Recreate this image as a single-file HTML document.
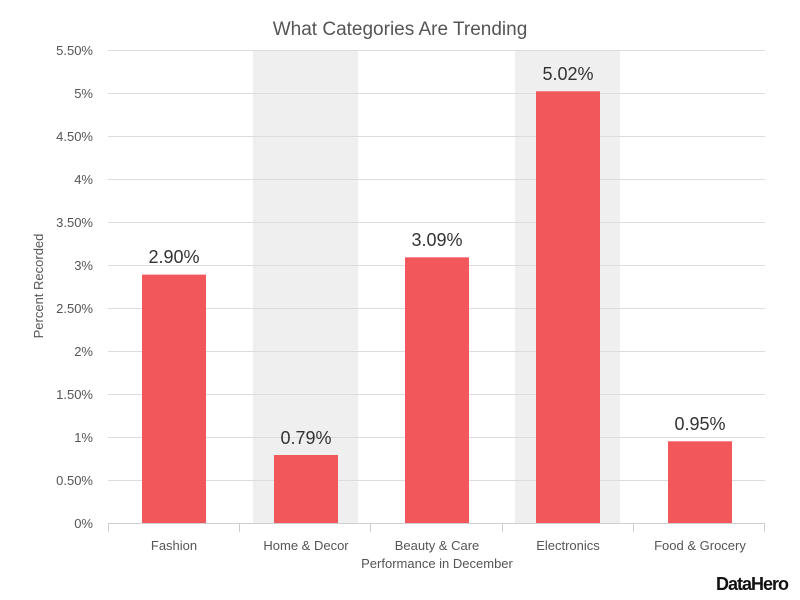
<!DOCTYPE html>
<html><head><style>body{margin:0;background:#fff}svg{display:block;font-family:"Liberation Sans",sans-serif}</style></head><body>
<svg width="800" height="600" xmlns="http://www.w3.org/2000/svg">
<rect width="800" height="600" fill="#fff"/>
<rect x="253" y="50" width="105" height="473" fill="#efefef"/>
<rect x="515" y="50" width="105" height="473" fill="#efefef"/>
<g stroke="#dcdcdc" stroke-width="1">
<line x1="108" x2="765" y1="50.5" y2="50.5"/><line x1="108" x2="765" y1="93.5" y2="93.5"/><line x1="108" x2="765" y1="136.5" y2="136.5"/><line x1="108" x2="765" y1="179.5" y2="179.5"/><line x1="108" x2="765" y1="222.5" y2="222.5"/><line x1="108" x2="765" y1="265.5" y2="265.5"/><line x1="108" x2="765" y1="308.5" y2="308.5"/><line x1="108" x2="765" y1="351.5" y2="351.5"/><line x1="108" x2="765" y1="394.5" y2="394.5"/><line x1="108" x2="765" y1="437.5" y2="437.5"/><line x1="108" x2="765" y1="480.5" y2="480.5"/>
</g>
<g fill="#f2575b">
<rect x="142" y="274.6" width="64" height="248.4"/>
<rect x="274" y="455" width="64" height="68"/>
<rect x="405" y="257.3" width="64" height="265.7"/>
<rect x="536" y="91.3" width="64" height="431.7"/>
<rect x="668" y="441.3" width="64" height="81.7"/>
</g>
<g stroke="#cfcfcf"><line x1="108" x2="765" y1="523.5" y2="523.5"/>
<line x1="108.5" x2="108.5" y1="523" y2="532"/><line x1="239.5" x2="239.5" y1="523" y2="532"/><line x1="370.5" x2="370.5" y1="523" y2="532"/><line x1="502.5" x2="502.5" y1="523" y2="532"/><line x1="633.5" x2="633.5" y1="523" y2="532"/><line x1="764.5" x2="764.5" y1="523" y2="532"/></g>
<g font-size="13" fill="#555" text-anchor="end">
<text x="93" y="55">5.50%</text><text x="93" y="98">5%</text><text x="93" y="141">4.50%</text><text x="93" y="184">4%</text><text x="93" y="227">3.50%</text><text x="93" y="270">3%</text><text x="93" y="313">2.50%</text><text x="93" y="356">2%</text><text x="93" y="399">1.50%</text><text x="93" y="442">1%</text><text x="93" y="485">0.50%</text><text x="93" y="528">0%</text>
</g>
<g font-size="13" fill="#555" text-anchor="middle">
<text x="174" y="550">Fashion</text><text x="306" y="550">Home &amp; Decor</text><text x="437" y="550">Beauty &amp; Care</text><text x="568" y="550">Electronics</text><text x="700" y="550">Food &amp; Grocery</text>
<text x="437" y="568">Performance in December</text>
<text transform="translate(43,286) rotate(-90)">Percent Recorded</text>
</g>
<g font-size="18" fill="#333" text-anchor="middle">
<text x="174" y="263">2.90%</text><text x="306" y="444">0.79%</text><text x="437" y="246">3.09%</text><text x="568" y="80">5.02%</text><text x="700" y="430">0.95%</text>
</g>
<text x="400" y="35" font-size="19" fill="#555" text-anchor="middle">What Categories Are Trending</text>
<text x="752" y="590" font-size="18" font-weight="bold" fill="#111" text-anchor="middle" letter-spacing="-1">DataHero</text>
</svg>
</body></html>
